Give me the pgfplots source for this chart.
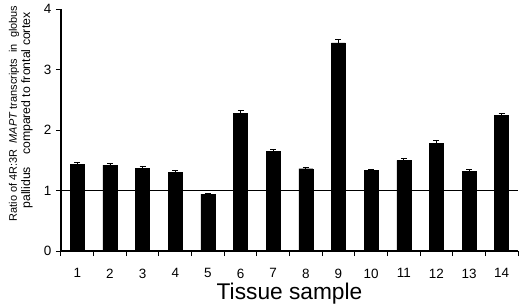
\documentclass[border=0pt]{standalone}
\usepackage{pgfplots}
\pgfplotsset{compat=1.18}
\usepackage{fontspec}
\setmainfont{Liberation Sans}
\begin{document}
\begin{tikzpicture}
\useasboundingbox (-61bp,-53bp) rectangle (459bp,251bp);
\begin{axis}[
  at={(0,0)}, anchor=south west,
  scale only axis, width=457bp, height=242bp,
  xmin=0.5, xmax=14.5, ymin=0, ymax=4,
  axis x line=bottom, axis y line=left,
  axis line style={-, line width=1.1bp},
  tick align=outside,
  major tick length=5bp,
  tick style={black, line width=1bp},
  xtick={0.5,1.5,...,14.5}, xticklabels={},
  extra x ticks={1,2,3,4,5,6,7,8,9,10,11,12,13,14},
  extra x tick labels={1,2,3,4,5,6,7,8,9,10,11,12,13,14},
  extra x tick style={major tick length=0pt, xticklabel style={inner sep=1bp, yshift=-16.5bp}},
  ytick={0,1,2,3,4},
  /pgf/number format/assume math mode=true,
  ticklabel style={font=\fontsize{13.5}{15}\selectfont},
  yticklabel style={xshift=-1bp},
  clip=false,
]
\addplot[ybar, bar width=14bp, fill=black, draw=black, bar shift=0pt,
  error bars/.cd, y dir=plus, y explicit,
  error bar style={black, line width=0.8bp},
  error mark options={rotate=90, mark size=3bp, black, line width=0.8bp}]
  table[x=x, y=y, y error=e] {
x y e
1 1.43 0.03
2 1.42 0.03
3 1.37 0.03
4 1.30 0.025
5 0.94 0.01
6 2.27 0.05
7 1.65 0.035
8 1.36 0.03
9 3.44 0.06
10 1.33 0.025
11 1.50 0.03
12 1.78 0.045
13 1.32 0.03
14 2.24 0.03
};
\addplot[black, line width=0.9bp, mark=none] coordinates {(0.5,1) (14.5,1)};
\end{axis}
\node[rotate=90, anchor=base, font=\fontsize{11}{14}\selectfont] at (-44bp,137.5bp)
  {Ratio of 4R:3R\ \ \textit{MAPT} transcripts\ \ in\ \ globus};
\node[rotate=90, anchor=base, font=\fontsize{12.3}{14}\selectfont] at (-31bp,140.5bp)
  {pallidus\hspace{12bp}compared to frontal cortex};
\node[anchor=base, inner sep=0pt, font=\fontsize{22.8}{27}\selectfont] at (228.5bp,-48bp) {Tissue sample};
\end{tikzpicture}
\end{document}
